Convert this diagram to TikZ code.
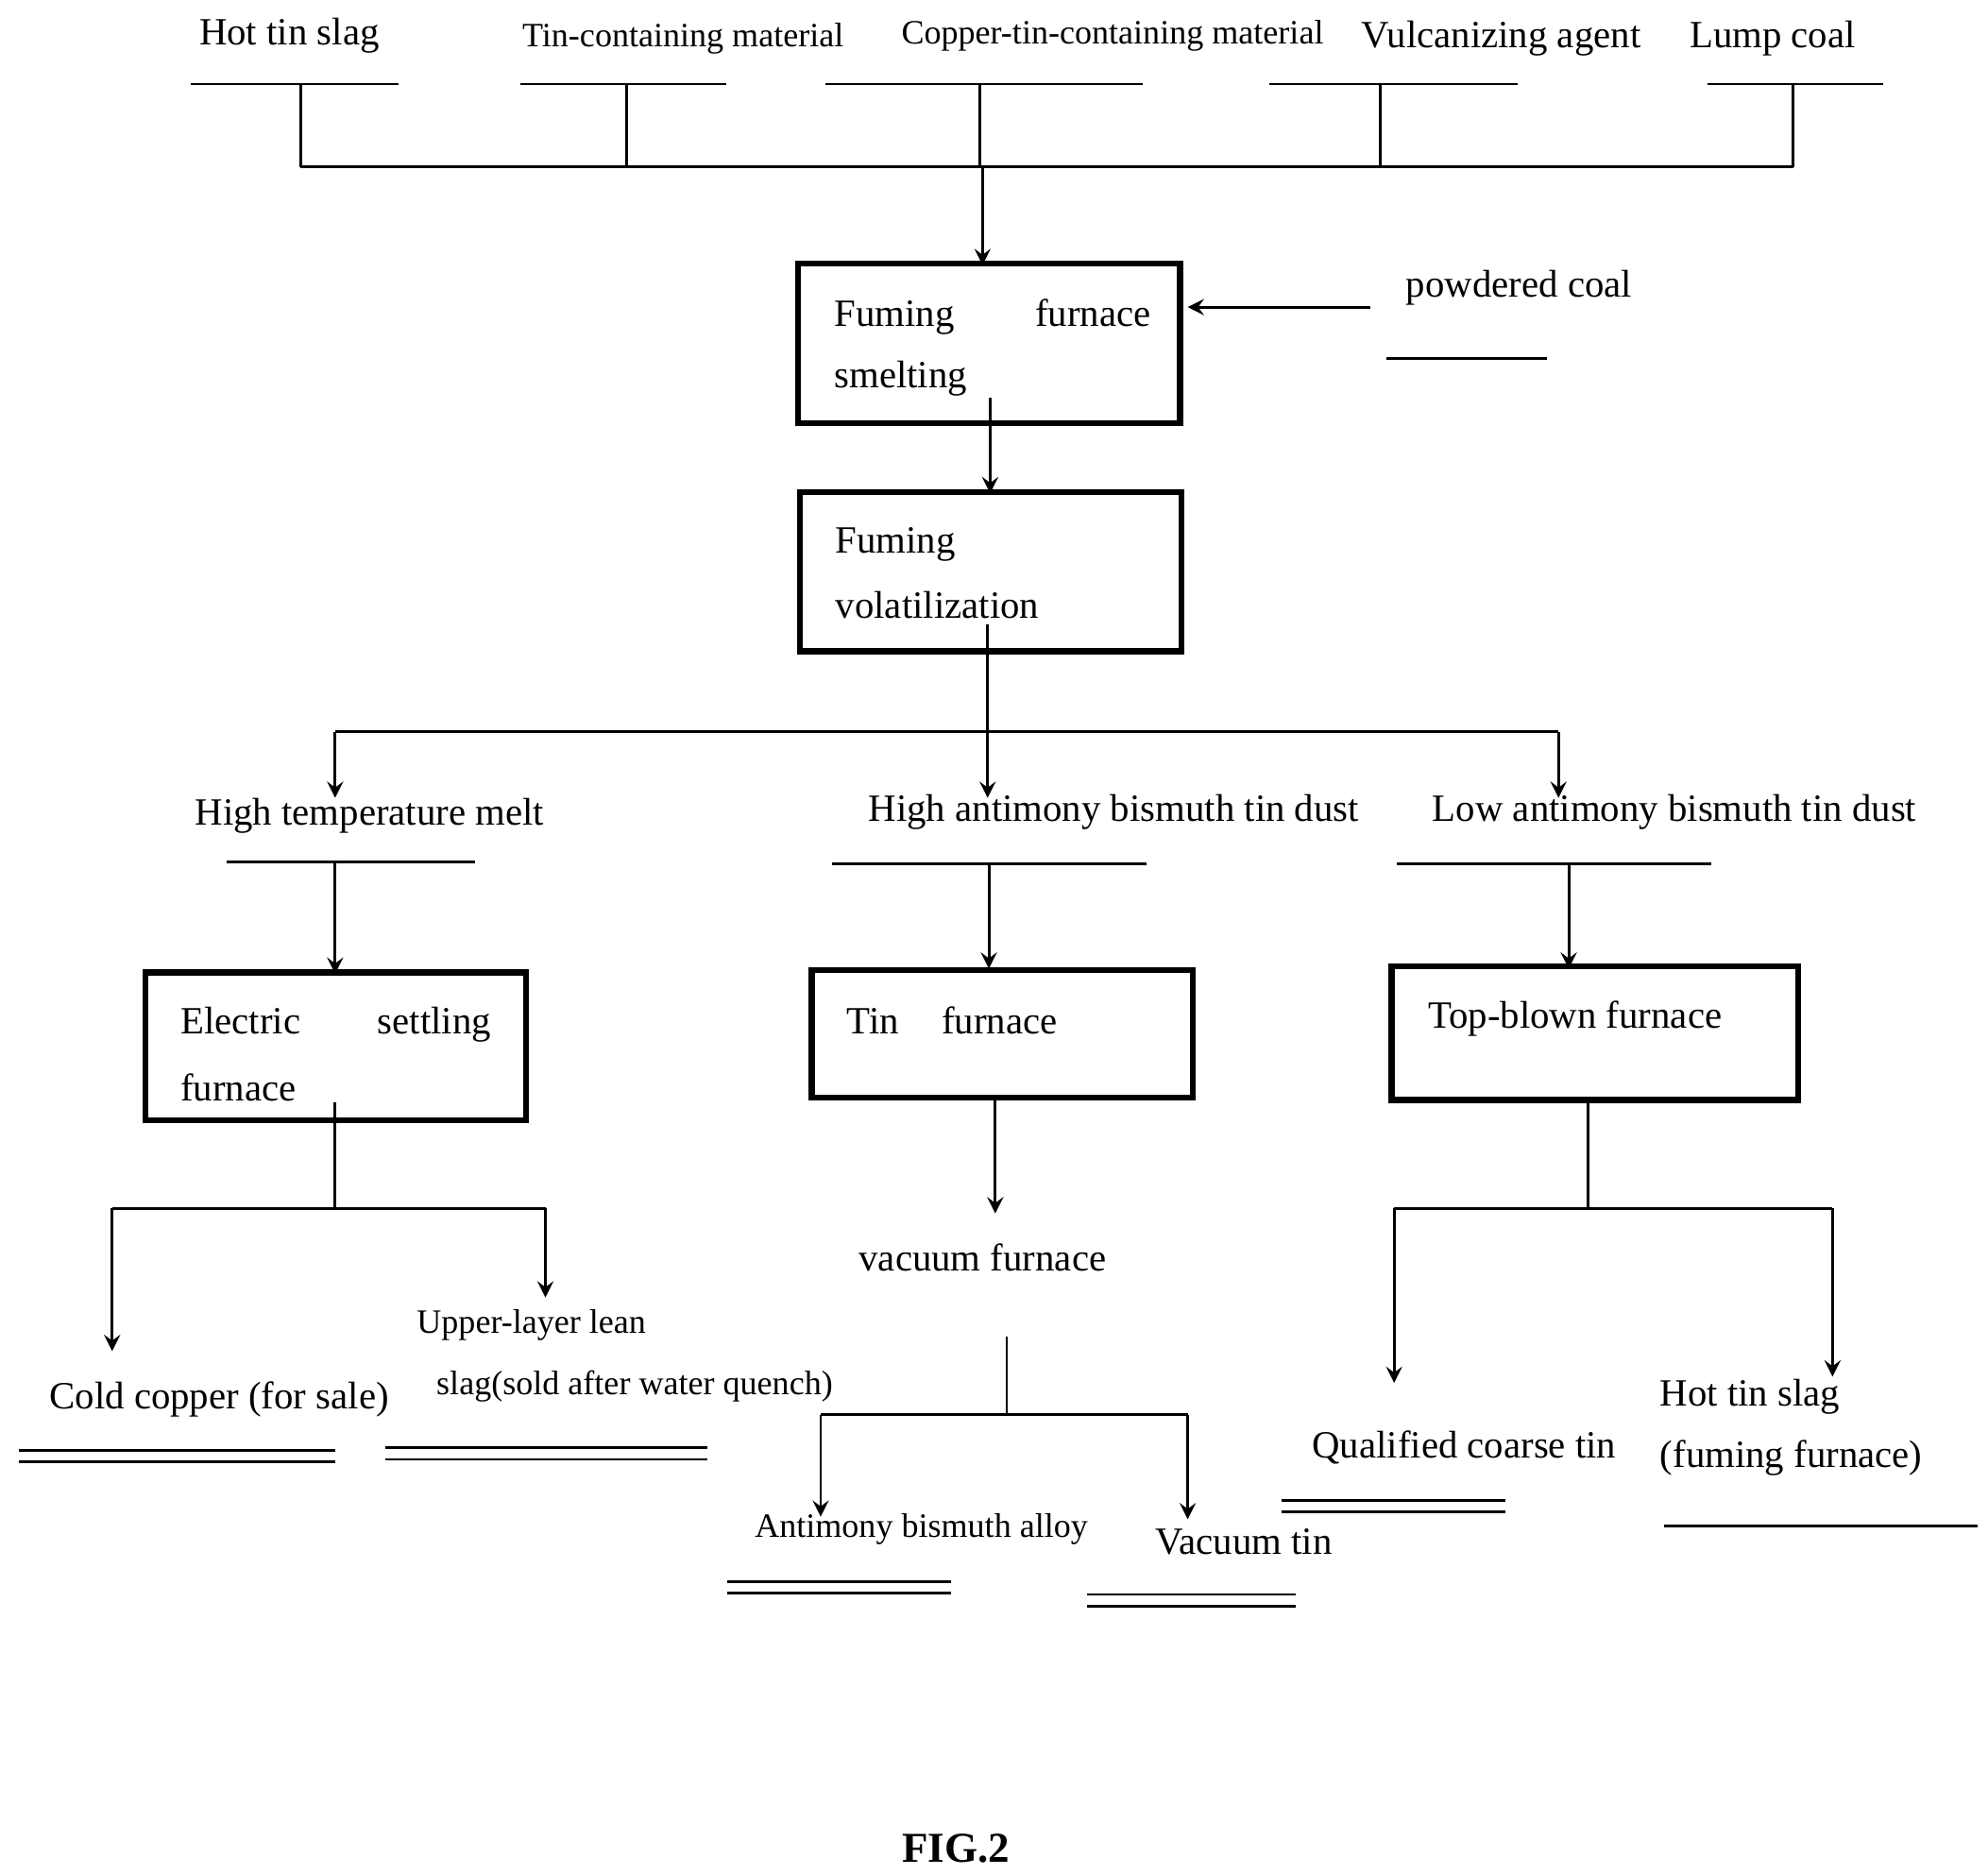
\documentclass[tikz,border=0pt]{standalone}
\usepackage{fontspec}
\setmainfont{Liberation Serif}
\begin{document}
\begin{tikzpicture}[x=0.01cm,y=-0.01cm,
  ln/.style={line width=0.6pt},
  ar/.style={line width=0.6pt,-stealth},
  bx/.style={draw,line width=1.3pt},
  t/.style={font=\fontsize{8.6}{10}\selectfont,inner sep=0pt},
  ts/.style={font=\fontsize{7.6}{9}\selectfont,inner sep=0pt}]
\useasboundingbox (0,0) rectangle (1560,1471);
% top inputs
\node[t] (a1) at (227,28) {Hot tin slag};
\node[ts] (a2) at (536,30) {Tin-containing material};
\node[ts] (a3) at (873,28) {Copper-tin-containing material};
\node[t] (a4) at (1178,30) {Vulcanizing agent};
\node[t] (a5) at (1391,30) {Lump coal};
\draw[ln] (150,66)--(313,66) (408,66)--(570,66) (648,66)--(897,66) (996,66)--(1191,66) (1340,66)--(1478,66);
\draw[ln] (236,66)--(236,131) (492,66)--(492,131) (769,66)--(769,131) (1083,66)--(1083,131) (1407,66)--(1407,131) (236,131)--(1407,131);
% box1
\draw[bx] (626,207) rectangle (926,332);
\coordinate (b1t) at (771,208);
\draw[ar] (771,131)--(b1t);
\node[t,anchor=west] (b1a) at (654,249) {Fuming\hspace{2.1em}furnace};
\node[t,anchor=west] (b1b) at (654,297) {smelting};
\node[t] (pc) at (1192,226) {powdered coal};
\draw[ln] (1088,281)--(1214,281);
\coordinate (pcs) at (1075,241); \coordinate (pce) at (932,241);
\draw[ar] (pcs)--(pce);
% box2
\draw[bx] (628,386) rectangle (927,511);
\draw[ar] (777,312)--(777,387);
\node[t,anchor=west] (b2a) at (655,427) {Fuming};
\node[t,anchor=west] (b2b) at (655,475) {volatilization};
\draw[ln] (775,490)--(775,574) (263,574)--(1223,574);
\draw[ar] (263,574)--(263,626);
\draw[ar] (775,574)--(775,626);
\draw[ar] (1223,574)--(1223,626);
\node[t] (m1) at (290,640) {High temperature melt};
\node[t] (m2) at (874,637) {High antimony bismuth tin dust};
\node[t] (m3) at (1314,637) {Low antimony bismuth tin dust};
\draw[ln] (178,676)--(373,676) (653,678)--(900,678) (1096,678)--(1343,678);
\draw[ar] (263,676)--(263,764);
\draw[ar] (776,678)--(776,760);
\draw[ar] (1231,678)--(1231,760);
% boxes row
\draw[bx] (114,763) rectangle (413,879);
\node[t,anchor=west] (e1) at (141,804) {Electric\hspace{2em}settling};
\node[t,anchor=west] (e2) at (141,853) {furnace};
\draw[bx] (637,761) rectangle (936,861);
\node[t,anchor=west] (tf) at (664,801) {Tin\hspace{1.1em}furnace};
\draw[bx] (1092,758) rectangle (1411,863);
\node[t,anchor=west] (tb) at (1120,799) {Top-blown furnace};
% left branch
\draw[ln] (263,865)--(263,948) (88,948)--(428,948);
\draw[ar] (88,948)--(88,1060);
\draw[ar] (428,948)--(428,1018);
\node[t] (cc) at (172,1098) {Cold copper (for sale)};
\draw[ln] (15,1138)--(263,1138) (15,1147)--(263,1147);
\node[ts] (ul1) at (417,1040) {Upper-layer lean};
\node[ts] (ul2) at (498,1088) {slag(sold after water quench)};
\draw[ln] (302,1136)--(555,1136) (302,1145)--(555,1145);
% middle branch
\draw[ar] (781,861)--(781,952);
\node[t] (vf) at (771,987) {vacuum furnace};
\draw[ln] (790,1049)--(790,1110) (644,1110)--(932,1110);
\draw[ar] (644,1110)--(644,1190);
\draw[ar] (932,1110)--(932,1192);
\node[ts] (sb) at (723,1200) {Antimony bismuth alloy};
\draw[ln] (571,1241)--(746,1241) (571,1250)--(746,1250);
\node[t] (vt) at (976,1210) {Vacuum tin};
\draw[ln] (853,1251)--(1017,1251) (853,1260)--(1017,1260);
% right branch
\draw[ln] (1246,863)--(1246,948) (1094,948)--(1438,948);
\draw[ar] (1094,948)--(1094,1085);
\draw[ar] (1438,948)--(1438,1080);
\node[t] (qc) at (1149,1136) {Qualified coarse tin};
\draw[ln] (1006,1177)--(1181,1177) (1006,1186)--(1181,1186);
\node[t,anchor=west] (hs1) at (1302,1096) {Hot tin slag};
\node[t,anchor=west] (hs2) at (1302,1144) {(fuming furnace)};
\draw[ln] (1306,1197)--(1552,1197);
\node[t,font=\fontsize{9.5}{11}\selectfont\bfseries] (fig) at (750,1450) {FIG.2};
\end{tikzpicture}
\end{document}
